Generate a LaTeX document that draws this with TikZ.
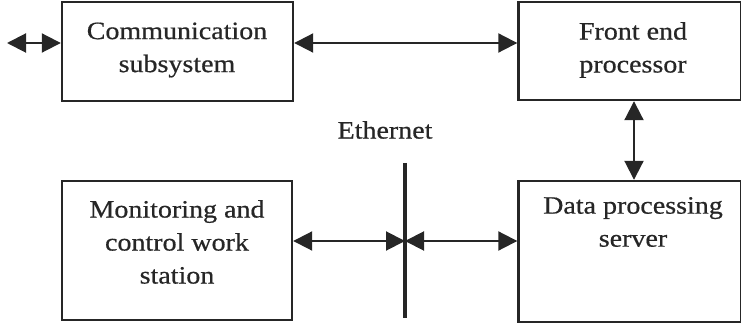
\documentclass[tikz,border=0pt]{standalone}
\usepackage{fontspec}
\setmainfont[FakeStretch=1.12, FakeBold=0.6]{Liberation Serif}
\usetikzlibrary{arrows.meta}
\definecolor{ink}{HTML}{262626}
\tikzset{
  blk/.style={draw=ink, line width=2.4pt, rectangle, inner sep=0pt},
  lbl/.style={text=ink, align=center, inner sep=0pt,
    font=\fontsize{25}{33}\selectfont},
  link/.style={draw=ink, line width=2pt,
    {Triangle[length=19pt,width=19pt]}-{Triangle[length=19pt,width=19pt]}},
  bus/.style={draw=ink, line width=3.2pt}
}
\begin{document}
\begin{tikzpicture}[x=1pt, y=-1pt]
  \useasboundingbox (0,0) rectangle (741,323);

  % blocks
  \node[blk, minimum width=231pt, minimum height=99pt]  (comm)  at (177.5,51.5) {};
  \node[blk, minimum width=223pt, minimum height=98pt]  (front) at (630,51)    {};
  \node[blk, minimum width=230pt, minimum height=139pt] (mon)   at (177,250.5) {};
  \node[blk, minimum width=223pt, minimum height=141pt] (data)  at (630,251.5) {};

  % block captions
  \node[lbl] (commt)  at (177,50)  {Communication\\subsystem};
  \node[lbl] (frontt) at (633,50)  {Front end\\processor};
  \node[lbl] (mont)   at (177,242) {Monitoring and\\control work\\station};
  \node[lbl] (datat)  at (633,222) {Data processing\\server};

  % Ethernet bus
  \coordinate (ethtop) at (405,163);
  \coordinate (ethbot) at (405,318);
  \draw[bus] (ethtop) -- (ethbot);
  \node[lbl] (ethl) at (385,130) {Ethernet};

  % connectors
  \coordinate (ext) at (7,43);
  \coordinate (vx) at (634,0);
  \coordinate (ly) at (0,241);
  \draw[link] (ext) -- (ext -| comm.west);
  \draw[link] (ext -| comm.east) -- (ext -| front.west);
  \draw[link] (vx |- front.south) -- (vx |- data.north);
  \draw[link] (ly -| mon.east) -- (ly -| ethtop);
  \draw[link] (ly -| ethtop) -- (ly -| data.west);
\end{tikzpicture}
\end{document}
